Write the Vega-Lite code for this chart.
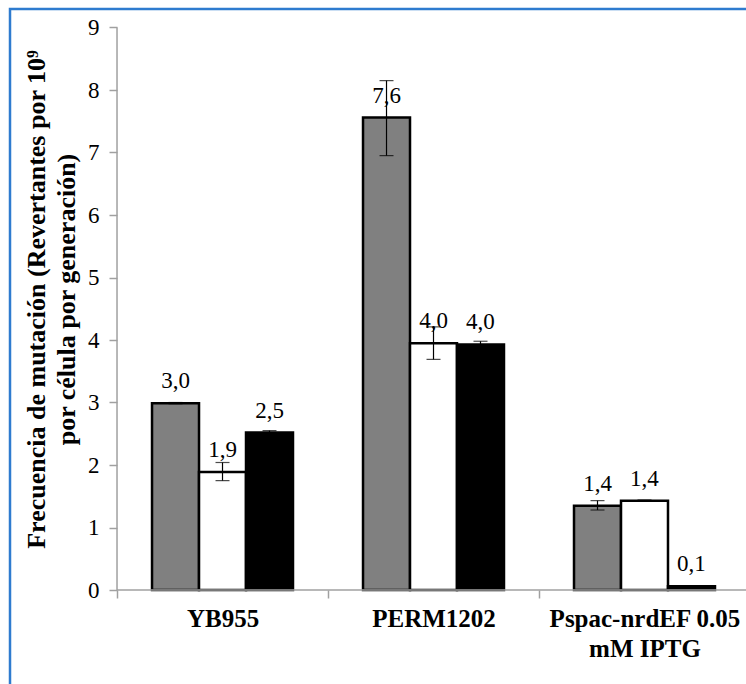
{
  "$schema": "https://vega.github.io/schema/vega-lite/v6.json",
  "autosize": "none",
  "padding": {"left": 10, "top": 9, "right": 0, "bottom": 0},
  "width": 750,
  "height": 691,
  "background": "white",
  "config": {
    "view": {"stroke": "#2e7bcf", "strokeWidth": 2.5},
    "font": "'Liberation Serif', 'Times New Roman', serif"
  },
  "data": {
    "values": [
      {"group": "YB955", "series": "s1", "value": 2.99, "lo": 2.98, "hi": 3.0, "label": "3,0"},
      {"group": "YB955", "series": "s2", "value": 1.89, "lo": 1.75, "hi": 2.04, "label": "1,9"},
      {"group": "YB955", "series": "s3", "value": 2.52, "lo": 2.5, "hi": 2.55, "label": "2,5"},
      {"group": "PERM1202", "series": "s1", "value": 7.56, "lo": 6.95, "hi": 8.15, "label": "7,6"},
      {"group": "PERM1202", "series": "s2", "value": 3.95, "lo": 3.69, "hi": 4.21, "label": "4,0"},
      {"group": "PERM1202", "series": "s3", "value": 3.93, "lo": 3.88, "hi": 3.98, "label": "4,0"},
      {"group": "Pspac-nrdEF 0.05 mM IPTG", "series": "s1", "value": 1.35, "lo": 1.28, "hi": 1.43, "label": "1,4"},
      {"group": "Pspac-nrdEF 0.05 mM IPTG", "series": "s2", "value": 1.43, "lo": 1.42, "hi": 1.44, "label": "1,4"},
      {"group": "Pspac-nrdEF 0.05 mM IPTG", "series": "s3", "value": 0.06, "lo": 0.05, "hi": 0.07, "label": "0,1"}
    ]
  },
  "encoding": {
    "x": {
      "field": "group",
      "type": "nominal",
      "sort": ["YB955", "PERM1202", "Pspac-nrdEF 0.05 mM IPTG"],
      "scale": {"paddingInner": 0, "paddingOuter": 0.2773, "align": 0.9145},
      "axis": {
        "title": null,
        "orient": "bottom",
        "offset": -110,
        "domain": false,
        "tickBand": "extent",
        "tickSize": 8,
        "tickColor": "#a0a0a0",
        "tickWidth": 1.5,
        "labelAngle": 0,
        "labelFont": "'Liberation Serif', 'Times New Roman', serif",
        "labelFontSize": 25,
        "labelFontWeight": "bold",
        "labelColor": "black",
        "labelPadding": 8,
        "labelLimit": 400,
        "labelOverlap": false,
        "labelLineHeight": 30,
        "labelExpr": "datum.value == 'Pspac-nrdEF 0.05 mM IPTG' ? ['Pspac-nrdEF 0.05', 'mM IPTG'] : datum.value"
      }
    },
    "xOffset": {
      "field": "series",
      "type": "nominal",
      "sort": ["s1", "s2", "s3"],
      "scale": {"paddingInner": 0, "paddingOuter": 0.745}
    }
  },
  "layer": [
    {
      "mark": {"type": "bar", "stroke": "black", "strokeWidth": 2.5},
      "encoding": {
        "y": {
          "field": "value",
          "type": "quantitative",
          "scale": {"domain": [-1.76, 9.296], "nice": false, "zero": false},
          "axis": {
            "orient": "left",
            "offset": -107,
            "values": [0, 1, 2, 3, 4, 5, 6, 7, 8, 9],
            "format": "d",
            "domain": false,
            "grid": false,
            "tickSize": 8,
            "tickColor": "#a0a0a0",
            "tickWidth": 1.5,
            "labelFont": "'Liberation Serif', 'Times New Roman', serif",
            "labelFontSize": 23,
            "labelColor": "black",
            "labelPadding": 10,
            "title": ["Frecuencia de mutación (Revertantes por 10⁹", "por célula por generación)"],
            "titleFont": "'Liberation Serif', 'Times New Roman', serif",
            "titleFontSize": 26,
            "titleFontWeight": "bold",
            "titleColor": "black",
            "titleLineHeight": 30,
            "titlePadding": 8,
            "titleY": 290
          }
        },
        "y2": {"datum": 0},
        "fill": {
          "field": "series",
          "type": "nominal",
          "scale": {"domain": ["s1", "s2", "s3"], "range": ["#808080", "#ffffff", "#000000"]},
          "legend": null
        }
      }
    },
    {
      "mark": {"type": "rule", "color": "black", "strokeWidth": 1.2},
      "encoding": {
        "y": {"field": "lo", "type": "quantitative"},
        "y2": {"field": "hi"}
      }
    },
    {
      "mark": {"type": "tick", "color": "black", "size": 14, "thickness": 1.2},
      "encoding": {
        "y": {"field": "lo", "type": "quantitative"}
      }
    },
    {
      "mark": {"type": "tick", "color": "black", "size": 14, "thickness": 1.2},
      "encoding": {
        "y": {"field": "hi", "type": "quantitative"}
      }
    },
    {
      "mark": {"type": "text", "font": "'Liberation Serif', 'Times New Roman', serif", "fontSize": 23, "color": "black", "baseline": "alphabetic", "dy": -15},
      "encoding": {
        "y": {"field": "value", "type": "quantitative"},
        "text": {"field": "label"}
      }
    },
    {
      "data": {"values": [{"a": 0}]},
      "mark": {"type": "rule", "color": "#a0a0a0", "strokeWidth": 1.5},
      "encoding": {
        "x": {"datum": "YB955", "bandPosition": 0},
        "xOffset": null,
        "y": {"datum": 0},
        "y2": {"datum": 9}
      }
    },
    {
      "data": {"values": [{"a": 0}]},
      "mark": {"type": "rule", "color": "#a0a0a0", "strokeWidth": 1.5},
      "encoding": {
        "x": {"datum": "YB955", "bandPosition": 0},
        "x2": {"datum": "Pspac-nrdEF 0.05 mM IPTG", "bandPosition": 1},
        "xOffset": null,
        "y": {"datum": 0}
      }
    }
  ]
}
